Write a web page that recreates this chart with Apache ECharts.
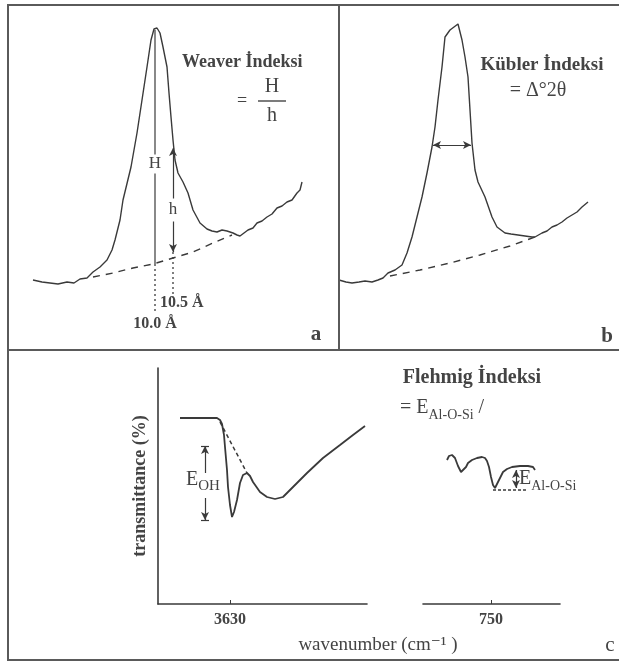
<!DOCTYPE html>
<html>
<head>
<meta charset="utf-8">
<script src="https://cdn.jsdelivr.net/npm/echarts@6/dist/echarts.min.js"></script>
<style>
  html, body { margin: 0; padding: 0; background: #fff; }
  #chart { width: 619px; height: 661px; }
</style>
</head>
<body>
<div id="chart"></div>
<script>
// panel a - XRD illite peak, Weaver index (arbitrary units)
const aCurve = [[25,70],[34,68],[42,67],[50,66],[59,68],[66,67],[72,71],[79,72],[85,78],[92,83],[99,90],
  [104,100],[107,110],[112,130],[115,150],[123,183],[129,217],[134,250],[139,283],[143,310],[146,321],
  [149,322],[152,317],[155,303],[159,283],[161,257],[163,233],[165,210],[167,190],[170,177],[175,168],
  [180,157],[185,140],[192,127],[199,121],[204,119],[209,118],[214,120],[219,119],[225,117],[229,115],
  [232,114],[236,117],[240,120],[245,122],[249,127],[254,129],[259,133],[264,136],[269,142],[274,144],
  [279,148],[284,150],[289,157],[292,160],[294,168]];
const aBase = [[85,73],[105,77],[125,82],[145,86],[165,92],[185,98],[205,107],[224,115]];
const aPeakLine = [[147,320],[147,86]];     // H
const aPeakDots = [[147,86],[147,38]];      // 10.0 A
const aShoulder = [[165,202],[165,98]];     // h
const aShoulderDots = [[165,98],[165,52]];  // 10.5 A

// panel b - Kubler index
const bCurve = [[0,70],[7,68],[13,67],[20,68],[26,69],[33,68],[39,70],[44,72],[49,77],[56,80],[63,85],
  [68,97],[73,113],[78,133],[83,153],[88,177],[93,203],[96,223],[99,250],[103,283],[106,313],[111,320],
  [115,323],[119,326],[123,310],[126,293],[129,273],[131,240],[133,207],[136,180],[139,168],[146,153],
  [153,133],[158,123],[166,117],[172,116],[179,115],[186,114],[193,113],[196,113],[203,117],[208,119],
  [213,123],[218,125],[223,128],[228,132],[233,135],[238,138],[243,143],[249,148]];
const bBase = [[51,74],[81,80],[111,87],[141,95],[171,104],[196,113]];
const bWidth = [[94,205],[132,205]];

// panel c - IR spectrum, Flehmig index
const cOhCurve = [[3680,186],[3650,186],[3643,186],[3640,184],[3638,180],[3636,169],[3635,157],[3633,134],
  [3632,117],[3630,99],[3628,87],[3626,92],[3623,104],[3620,121],[3617,129],[3613,131],[3610,128],
  [3607,122],[3600,112],[3593,107],[3585,105],[3577,107],[3567,117],[3553,131],[3537,146],[3520,159],
  [3507,169],[3495,178]];
const cOhBase = [[3640,182],[3613,131]];
const cOhBar = 3655, cOhTop = 158, cOhBottom = 84, cOhGapTop = 131, cOhGapBottom = 106;

const cAlCurve = [[794,144],[792,148],[789,149],[786,146],[783,138],[780,132],[778,131],[775,137],
  [773,141],[769,144],[764,146],[759,147],[756,146],[754,143],[752,137],[750,127],[748,119],[746,116],
  [744,120],[741,126],[738,132],[734,135],[729,137],[721,138],[713,138],[708,137],[706,134]];
const cAlBase = [[748,114],[713,114]];
const cAlBar = [[725,116],[725,134]];

const ohTicks = [3630];
const alTicks = [750];

const INK = '#3a3a3a';
const TXT = '#444';
const FONT = '"Liberation Serif", "DejaVu Serif", serif';

function hidden(min, max, gi) {
  return { type: 'value', gridIndex: gi, min: min, max: max, show: false };
}

function curve(data, i, width, dash) {
  return {
    type: 'line', xAxisIndex: i, yAxisIndex: i, data: data, symbol: 'none', silent: true,
    animation: false, z: 3,
    lineStyle: { color: INK, width: width, type: dash || 'solid' }
  };
}

function seg(p, q, s1, s2) {
  return [{ coord: p, symbol: s1 || 'none' }, { coord: q, symbol: s2 || 'none' }];
}

function marks(list) {
  return {
    silent: true, animation: false, symbolSize: [6, 8],
    label: { show: false },
    lineStyle: { color: INK, width: 1.2, type: 'solid' },
    emphasis: { disabled: true },
    data: list
  };
}

function wnAxis(gi, min, max, ticks) {
  return {
    type: 'value', gridIndex: gi, min: min, max: max, inverse: true,
    axisLine: { onZero: false, lineStyle: { color: INK, width: 1.6 } },
    axisTick: { show: true, inside: true, length: 4, customValues: ticks, lineStyle: { color: INK } },
    axisLabel: {
      customValues: ticks, margin: 8, color: TXT, fontSize: 16, fontWeight: 'bold', fontFamily: FONT,
      formatter: v => String(v)
    },
    splitLine: { show: false }
  };
}

const chart = echarts.init(document.getElementById('chart'), null, { renderer: 'canvas' });

const sA = curve(aCurve, 0, 1.4);
sA.markLine = marks([seg(aShoulder[0], aShoulder[1], 'arrow', 'arrow')]);
const sB = curve(bCurve, 1, 1.4);
sB.markLine = marks([seg(bWidth[0], bWidth[1], 'arrow', 'arrow')]);
const sC = curve(cOhCurve, 2, 1.8);
sC.markLine = marks([
  seg([cOhBar + 4, cOhTop], [cOhBar - 4, cOhTop]),
  seg([cOhBar + 4, cOhBottom], [cOhBar - 4, cOhBottom]),
  seg([cOhBar, cOhGapTop], [cOhBar, cOhTop], 'none', 'arrow'),
  seg([cOhBar, cOhGapBottom], [cOhBar, cOhBottom], 'none', 'arrow')
]);
const sD = curve(cAlCurve, 3, 1.8);
sD.markLine = marks([seg(cAlBar[0], cAlBar[1], 'arrow', 'arrow')]);

function txt(text, x, y, size, opt) {
  opt = opt || {};
  return {
    type: 'text', x: x, y: y, z: 100, rotation: opt.rot || 0,
    style: {
      text: text, fill: TXT, align: opt.align || 'center', verticalAlign: 'middle',
      font: (opt.bold === false ? '' : 'bold ') + size + 'px ' + FONT,
      backgroundColor: opt.bg, padding: opt.pad, rich: opt.rich
    }
  };
}

function frame(x1, y1, x2, y2) {
  return { type: 'line', z: 100, shape: { x1: x1, y1: y1, x2: x2, y2: y2 },
    style: { stroke: '#5a5a5a', lineWidth: 2 } };
}

function subRich(big, small) {
  return {
    e: { fontSize: big, fontFamily: FONT, fill: TXT, verticalAlign: 'middle', lineHeight: 28 },
    s: { fontSize: small, fontFamily: FONT, fill: TXT, verticalAlign: 'bottom', lineHeight: 28 }
  };
}

chart.setOption({
  animation: false,
  backgroundColor: '#fff',
  grid: [
    { left: 8, top: 5, width: 331, height: 345 },
    { left: 339, top: 5, width: 280, height: 345 },
    { left: 158, top: 368, width: 209, height: 236 },
    { left: 423, top: 368, width: 137, height: 236 }
  ],
  xAxis: [
    hidden(0, 331, 0),
    hidden(0, 280, 1),
    wnAxis(2, 3493, 3702, ohTicks),
    wnAxis(3, 681, 818, alTicks)
  ],
  yAxis: [
    hidden(0, 345, 0),
    hidden(0, 345, 1),
    {
      type: 'value', gridIndex: 2, min: 0, max: 236,
      axisLine: { show: true, onZero: false, lineStyle: { color: INK, width: 1.6 } },
      axisTick: { show: false }, axisLabel: { show: false }, splitLine: { show: false }
    },
    hidden(0, 236, 3)
  ],
  series: [
    sA,
    curve(aBase, 0, 1.4, [7, 6]),
    curve(aPeakLine, 0, 1.2),
    curve(aPeakDots, 0, 1.3, [2, 3]),
    curve(aShoulderDots, 0, 1.3, [2, 3]),
    sB,
    curve(bBase, 1, 1.4, [7, 6]),
    sC,
    curve(cOhBase, 2, 1.5, [4, 3]),
    sD,
    curve(cAlBase, 3, 1.3, [3, 2])
  ],
  graphic: {
    elements: [
      frame(8, 5, 619, 5),
      frame(8, 4, 8, 661),
      frame(8, 660, 619, 660),
      frame(8, 350, 619, 350),
      frame(339, 5, 339, 350),

      txt('Weaver İndeksi', 182, 62, 18, { align: 'left' }),
      txt('=', 242, 101, 18, { bold: false }),
      txt('H', 272, 87, 20, { bold: false }),
      { type: 'line', z: 100, shape: { x1: 258, y1: 101, x2: 286, y2: 101 }, style: { stroke: TXT, lineWidth: 1.4 } },
      txt('h', 272, 116, 20, { bold: false }),
      txt('H', 155, 164, 17, { bold: false, bg: '#fff', pad: [1, 1] }),
      txt('h', 173, 210, 17, { bold: false, bg: '#fff', pad: [3, 1] }),
      txt('10.5 Å', 160, 303, 16, { align: 'left' }),
      txt('10.0 Å', 155, 324, 16),
      txt('a', 316, 335, 21),

      txt('Kübler İndeksi', 542, 65, 19),
      txt('= Δ°2θ', 538, 91, 20, { bold: false }),
      txt('b', 607, 337, 21),

      txt('Flehmig İndeksi', 472, 378, 20),
      txt('{e|= E}{s|Al-O-Si}{e| /}', 400, 408, 20, { align: 'left', bold: false, rich: subRich(20, 14) }),
      txt('{e|E}{s|OH}', 186, 480, 20, { align: 'left', bold: false, rich: subRich(20, 15) }),
      txt('{e|E}{s|Al-O-Si}', 519, 479, 20, { align: 'left', bold: false, rich: subRich(20, 14) }),
      txt('transmittance (%)', 140, 486, 18, { rot: Math.PI / 2 }),
      txt('wavenumber (cm⁻¹ )', 378, 645, 19, { bold: false }),
      txt('c', 610, 645, 21, { bold: false })
    ]
  }
});
</script>
</body>
</html>
